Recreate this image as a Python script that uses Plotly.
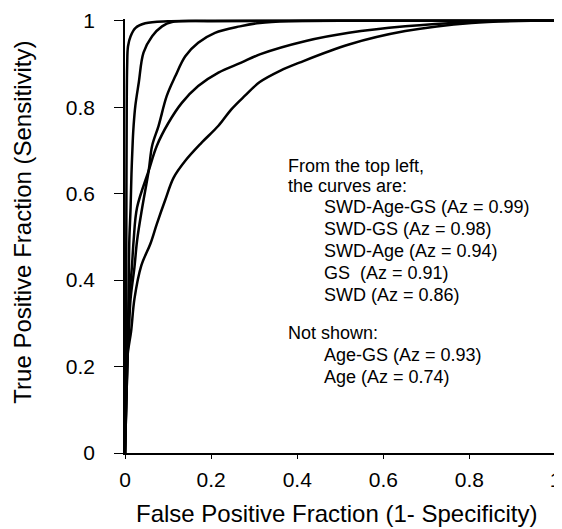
import plotly.graph_objects as go

# ROC curves (x = false positive fraction, y = true positive fraction)
swd_age_gs_x = [0, 0.002, 0.003, 0.004, 0.005, 0.007, 0.013, 0.024, 0.047, 0.10, 0.3, 1.0]
swd_age_gs_y = [0, 0.2, 0.5, 0.8, 0.895, 0.941, 0.964, 0.983, 0.994, 0.999, 1.0, 1.0]

swd_gs_x = [0, 0.006, 0.009, 0.010, 0.013, 0.015, 0.018, 0.020, 0.024, 0.032, 0.043, 0.063, 0.086, 0.109, 0.2, 0.5, 1.0]
swd_gs_y = [0, 0.226, 0.422, 0.491, 0.568, 0.645, 0.722, 0.757, 0.803, 0.857, 0.926, 0.964, 0.987, 0.997, 0.999, 1.0, 1.0]

swd_age_x = [0, 0.006, 0.009, 0.013, 0.022, 0.028, 0.040, 0.055, 0.063, 0.078, 0.097, 0.117, 0.14, 0.17, 0.209, 0.267, 0.313, 0.38, 0.6, 1.0]
swd_age_y = [0, 0.226, 0.28, 0.357, 0.43, 0.491, 0.568, 0.653, 0.711, 0.757, 0.826, 0.872, 0.918, 0.949, 0.972, 0.987, 0.995, 0.999, 1.0, 1.0]

gs_x = [0, 0.006, 0.008, 0.010, 0.016, 0.020, 0.028, 0.055, 0.074, 0.101, 0.132, 0.170, 0.217, 0.27, 0.313, 0.42, 0.52, 0.651, 0.805, 0.9, 1.0]
gs_y = [0, 0.226, 0.28, 0.357, 0.43, 0.491, 0.568, 0.653, 0.711, 0.764, 0.810, 0.849, 0.880, 0.903, 0.922, 0.953, 0.972, 0.987, 0.997, 1.0, 1.0]

swd_x = [0, 0.006, 0.014, 0.022, 0.038, 0.059, 0.074, 0.093, 0.113, 0.14, 0.177, 0.217, 0.247, 0.278, 0.313, 0.36, 0.405, 0.52, 0.651, 0.805, 0.959, 1.0]
swd_y = [0, 0.226, 0.28, 0.357, 0.434, 0.484, 0.530, 0.584, 0.637, 0.676, 0.717, 0.757, 0.795, 0.826, 0.858, 0.884, 0.903, 0.945, 0.976, 0.995, 1.0, 1.0]

tick_vals = [0, 0.2, 0.4, 0.6, 0.8, 1]
tick_text = ["0", "0.2", "0.4", "0.6", "0.8", "1"]

x_title = "False Positive Fraction (1- Specificity)"
y_title = "True Positive Fraction (Sensitivity)"

note_head = ["From the top left,", "the curves are:"]
note_items = ["SWD-Age-GS (Az = 0.99)", "SWD-GS (Az = 0.98)", "SWD-Age (Az = 0.94)",
              "GS  (Az = 0.91)", "SWD (Az = 0.86)"]
note_head2 = ["Not shown:"]
note_items2 = ["Age-GS (Az = 0.93)", "Age (Az = 0.74)"]

FONT = "Liberation Sans, Arial, Helvetica, sans-serif"

fig = go.Figure()
for xs, ys in [(swd_age_gs_x, swd_age_gs_y), (swd_gs_x, swd_gs_y), (swd_age_x, swd_age_y),
               (gs_x, gs_y), (swd_x, swd_y)]:
    fig.add_trace(go.Scatter(x=xs, y=ys, mode="lines", line=dict(color="black", width=2.5),
                             line_shape="spline", showlegend=False, hoverinfo="skip"))

# page pixel -> data helpers (positions of the note text in the reference)
def ypix(py):
    return (453 - py) / 433.5

def xpix(px):
    return (px - 124.5) / 431.0

anns = []
for t, py in zip(note_head, [165, 185]):
    anns.append((t, xpix(286), ypix(py)))
for t, py in zip(note_items, [206.7, 228.5, 250.5, 272.5, 294.5]):
    anns.append((t, xpix(322), ypix(py)))
anns.append((note_head2[0], xpix(286), ypix(333)))
for t, py in zip(note_items2, [355, 377]):
    anns.append((t, xpix(322), ypix(py)))

for t, x, y in anns:
    fig.add_annotation(x=x, y=y, xref="x", yref="y", text=t, showarrow=False,
                       xanchor="left", yanchor="middle",
                       font=dict(family=FONT, size=18, color="black"))

# axis titles as paper-referenced annotations for exact placement
fig.add_annotation(x=0.488, y=-0.1394, xref="paper", yref="paper", text=x_title, showarrow=False,
                   xanchor="center", yanchor="middle", font=dict(family=FONT, size=24, color="black"))
fig.add_annotation(x=-0.236, y=0.532, xref="paper", yref="paper", text=y_title, showarrow=False,
                   textangle=-90, xanchor="center", yanchor="middle",
                   font=dict(family=FONT, size=24, color="black"))

# the page body has an 8px margin, so the figure is 8px smaller and margins shifted
fig.update_layout(
    width=554, height=521,
    margin=dict(l=116.5, r=3, t=11, b=76),
    paper_bgcolor="white", plot_bgcolor="white",
    font=dict(family=FONT, color="black"),
    xaxis=dict(range=[0, 1.008], tickvals=tick_vals, ticktext=tick_text, automargin=False,
               showgrid=False, zeroline=False, showline=True, linecolor="black", linewidth=1.5,
               ticks="outside", ticklen=4, tickcolor="black", tickfont=dict(size=21, family=FONT),
               ticklabelstandoff=3, ticklabeloverflow="allow"),
    yaxis=dict(range=[0, 1.004], tickvals=tick_vals, ticktext=tick_text, automargin=False,
               showgrid=False, zeroline=False, showline=True, linecolor="black", linewidth=1.5,
               ticks="outside", ticklen=9, tickcolor="black", tickfont=dict(size=21, family=FONT),
               ticklabelstandoff=15, ticklabeloverflow="allow"),
)

fig.write_html("out.html")
